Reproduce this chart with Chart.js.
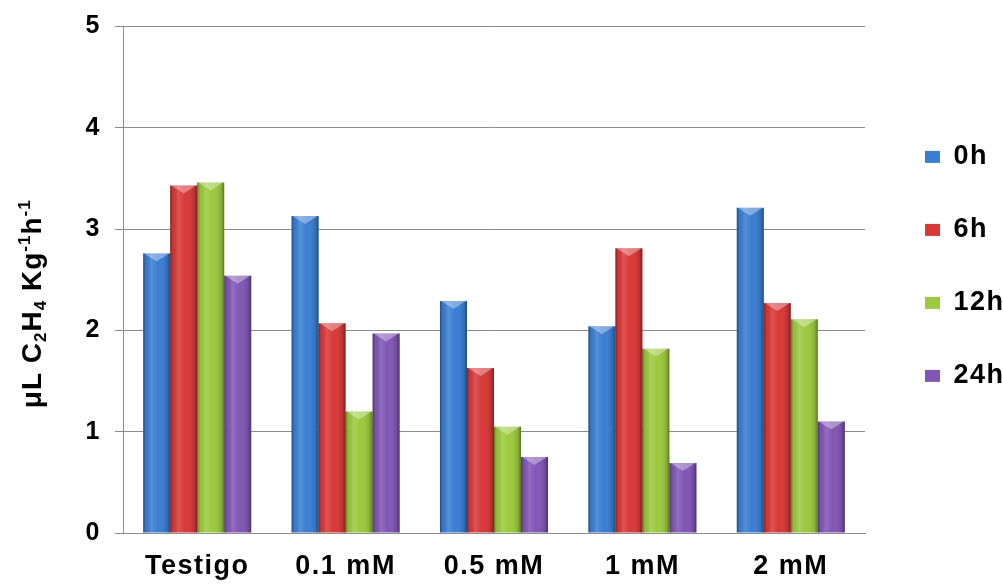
<!DOCTYPE html>
<html>
<head>
<meta charset="utf-8">
<script src="https://cdn.jsdelivr.net/npm/chart.js@4.4.0/dist/chart.umd.min.js"></script>
<style>
  html, body { margin: 0; padding: 0; background: #ffffff; }
  #wrap { width: 1003px; height: 586px; }
</style>
</head>
<body>
<div id="wrap"><canvas id="c" width="1003" height="586"></canvas></div>
<script>
// Ethylene production by treatment and sampling time
const categories = ['Testigo', '0.1 mM', '0.5 mM', '1 mM', '2 mM'];
const seriesNames = ['0h', '6h', '12h', '24h'];
const values0h  = [2.76, 3.13, 2.29, 2.04, 3.21];
const values6h  = [3.43, 2.07, 1.63, 2.81, 2.27];
const values12h = [3.46, 1.20, 1.05, 1.82, 2.11];
const values24h = [2.54, 1.97, 0.75, 0.69, 1.10];
const yTicks = [0, 1, 2, 3, 4, 5];
const barColors = ['#3a7ed2', '#d83838', '#9cc93e', '#8156b5'];

const FONT = "'Liberation Sans', Arial, Helvetica, sans-serif";
const GRID = '#8c8c8c';

// Slightly open letter spacing for all chart text
const spacingPlugin = {
  id: 'spacing',
  beforeDraw(chart) { if ('letterSpacing' in chart.ctx) chart.ctx.letterSpacing = '1.5px'; },
  afterDraw(chart) { if ('letterSpacing' in chart.ctx) chart.ctx.letterSpacing = '0px'; }
};

// Axis title with sub/superscripts, drawn rotated beside the value axis
const titleParts = [
  { t: 'μL C', k: 'n' }, { t: '2', k: 'sub' }, { t: 'H', k: 'n' }, { t: '4', k: 'sub' },
  { t: ' Kg', k: 'n' }, { t: '-1', k: 'sup' }, { t: 'h', k: 'n' }, { t: '-1', k: 'sup' }
];
const yTitlePlugin = {
  id: 'yTitle',
  afterDraw(chart) {
    const ctx = chart.ctx;
    ctx.save();
    if ('letterSpacing' in ctx) ctx.letterSpacing = '1px';
    const big = 'bold 28px ' + FONT, small = 'bold 17px ' + FONT;
    let total = 0;
    titleParts.forEach(p => { ctx.font = p.k === 'n' ? big : small; total += ctx.measureText(p.t).width; });
    const area = chart.chartArea;
    const cy = (area.top + area.bottom) / 2 + 24;
    ctx.translate(41, cy);
    ctx.rotate(-Math.PI / 2);
    ctx.fillStyle = '#000';
    ctx.textBaseline = 'alphabetic';
    let x = -total / 2;
    titleParts.forEach(p => {
      ctx.font = p.k === 'n' ? big : small;
      const dy = p.k === 'sub' ? 5 : (p.k === 'sup' ? -11 : 0);
      ctx.fillText(p.t, x, dy);
      x += ctx.measureText(p.t).width;
    });
    ctx.restore();
  }
};

// Cylinder-like shading and bevelled top on each bar
const barShadePlugin = {
  id: 'barShade',
  afterDatasetsDraw(chart) {
    const ctx = chart.ctx;
    chart.data.datasets.forEach((ds, i) => {
      const meta = chart.getDatasetMeta(i);
      if (meta.hidden) return;
      meta.data.forEach(el => {
        const { x, y, base, width } = el.getProps(['x', 'y', 'base', 'width'], true);
        const l = x - width / 2, r = x + width / 2;
        const g = ctx.createLinearGradient(l, 0, r, 0);
        g.addColorStop(0, 'rgba(0,0,0,0.38)');
        g.addColorStop(0.1, 'rgba(0,0,0,0.05)');
        g.addColorStop(0.3, 'rgba(255,255,255,0.14)');
        g.addColorStop(0.55, 'rgba(255,255,255,0)');
        g.addColorStop(0.88, 'rgba(0,0,0,0.12)');
        g.addColorStop(1, 'rgba(0,0,0,0.4)');
        ctx.save();
        ctx.fillStyle = g;
        ctx.fillRect(l, y, width, base - y);
        ctx.beginPath();
        ctx.moveTo(l + 1, y);
        ctx.lineTo(r - 1, y);
        ctx.lineTo(x, y + 8);
        ctx.closePath();
        ctx.fillStyle = 'rgba(255,255,255,0.35)';
        ctx.fill();
        ctx.restore();
      });
    });
  }
};

// Keep the legend column a little clear of the plot
const legendShiftPlugin = {
  id: 'legendShift',
  afterLayout(chart) {
    if (chart.legend) { chart.legend.left += 14; chart.legend.right += 14; }
  }
};

const seriesValues = [values0h, values6h, values12h, values24h];

new Chart(document.getElementById('c'), {
  type: 'bar',
  data: {
    labels: categories,
    datasets: seriesNames.map((name, i) => ({
      label: name,
      data: seriesValues[i],
      backgroundColor: barColors[i],
      borderWidth: 0,
      categoryPercentage: 0.728,
      barPercentage: 1.0
    }))
  },
  options: {
    responsive: false,
    animation: false,
    devicePixelRatio: 1,
    layout: { padding: { top: 0, right: 13, bottom: 0, left: 0 } },
    plugins: {
      tooltip: { enabled: false },
      legend: {
        position: 'right',
        align: 'start',
        maxWidth: 125,
        title: { display: true, text: '', font: { size: 12 }, padding: { top: 83, bottom: 0 } },
        labels: {
          color: '#000',
          font: { family: FONT, size: 27, weight: 'bold' },
          boxWidth: 15,
          boxHeight: 12,
          padding: 46
        }
      }
    },
    scales: {
      x: {
        grid: { display: false, drawTicks: false },
        border: { display: true, color: GRID, width: 1 },
        ticks: {
          color: '#000',
          font: { family: FONT, size: 27, weight: 'bold' },
          padding: 17,
          maxRotation: 0
        },
        afterFit(s) { s.height = 53; }
      },
      y: {
        min: yTicks[0],
        max: yTicks[yTicks.length - 1],
        afterBuildTicks(s) { s.ticks = yTicks.map(v => ({ value: v })); },
        grid: { color: GRID, lineWidth: 1, drawTicks: true, tickLength: 8 },
        border: { display: true, color: GRID, width: 1 },
        ticks: {
          color: '#000',
          font: { family: FONT, size: 25, weight: 'bold', lineHeight: 1.0 },
          padding: 14
        },
        afterFit(s) { s.width = 123; }
      }
    }
  },
  plugins: [spacingPlugin, yTitlePlugin, barShadePlugin, legendShiftPlugin]
});
</script>
</body>
</html>
